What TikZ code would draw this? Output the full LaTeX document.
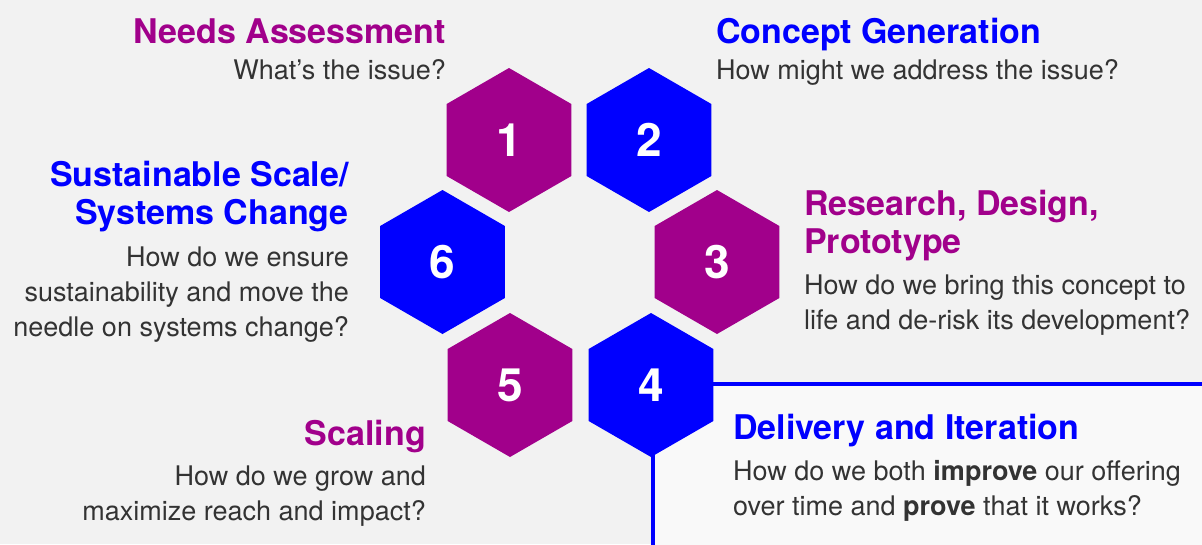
\documentclass[tikz,border=0pt]{standalone}
\usepackage{fontspec}
\setmainfont{TeX Gyre Heros}
\usetikzlibrary{shapes.geometric}
\definecolor{bg}{HTML}{F2F2F2}
\definecolor{boxbg}{HTML}{F9F9F9}
\definecolor{plum}{HTML}{A1008B}
\definecolor{vblue}{HTML}{0000FF}
\definecolor{txt}{HTML}{333333}
\tikzset{
  hexa/.style={regular polygon, regular polygon sides=6, shape border rotate=30,
    minimum size=144pt, inner sep=0pt, outer sep=0pt, draw=none, text=white,
    font=\bfseries\fontsize{46}{46}\selectfont},
  hexp/.style={hexa, fill=plum},
  hexb/.style={hexa, fill=vblue},
  ttl/.style={inner sep=0pt, font=\bfseries\fontsize{34}{38}\selectfont},
  ttlp/.style={ttl, text=plum},
  ttlb/.style={ttl, text=vblue},
  sub/.style={inner sep=0pt, text=txt, font=\fontsize{27}{35}\selectfont},
  boxline/.style={draw=vblue, line width=3.5pt}
}
\begin{document}
\begin{tikzpicture}[x=1pt,y=-1pt]
\useasboundingbox (0,0) rectangle (1202,544);
\fill[bg] (0,0) rectangle (1202,544);

% delivery box
\coordinate (bxtl) at (653,384);
\coordinate (bxtr) at (1206,384);
\coordinate (bxbl) at (653,548);
\fill[boxbg] (bxtl) rectangle (1206,548);
\draw[boxline] (bxtr) -- (bxtl) -- (bxbl);

% hexagons
\node[hexp] (h1) at (509,140) {1};
\node[hexb] (h2) at (649,140) {2};
\node[hexp] (h3) at (717,262) {3};
\node[hexb] (h4) at (651,385) {4};
\node[hexp] (h5) at (510,385) {5};
\node[hexb] (h6) at (442.5,262) {6};

% 1 Needs Assessment
\node[ttlp, anchor=base east] (t1) at (446,43) {Needs Assessment};
\node[sub, anchor=base east] (s1) at (446,79) {What’s the issue?};

% 2 Concept Generation
\node[ttlb, anchor=base west] (t2) at (716,43) {Concept Generation};
\node[sub, anchor=base west] (s2) at (716,79) {How might we address the issue?};

% 3 Research
\node[ttlp, anchor=base west] (t3a) at (804,215) {Research, Design,};
\node[ttlp, anchor=base west] (t3b) at (804,253) {Prototype};
\node[sub, anchor=base west] (s3a) at (804,294) {How do we bring this concept to};
\node[sub, anchor=base west] (s3b) at (804,329) {life and de-risk its development?};

% 4 Delivery
\node[ttlb, anchor=base west] (t4) at (733,439) {Delivery and Iteration};
\node[sub, anchor=base west] (s4a) at (733,480) {How do we both \textbf{improve} our offering};
\node[sub, anchor=base west] (s4b) at (733,515) {over time and \textbf{prove} that it works?};

% 5 Scaling
\node[ttlp, anchor=base east] (t5) at (426,445) {Scaling};
\node[sub, anchor=base east] (s5a) at (426,485) {How do we grow and};
\node[sub, anchor=base east] (s5b) at (426,520) {maximize reach and impact?};

% 6 Sustainable
\node[ttlb, anchor=base east] (t6a) at (349,186) {Sustainable Scale/};
\node[ttlb, anchor=base east] (t6b) at (349,224) {Systems Change};
\node[sub, anchor=base east] (s6a) at (349,266) {How do we ensure};
\node[sub, anchor=base east] (s6b) at (349,301) {sustainability and move the};
\node[sub, anchor=base east] (s6c) at (349,336) {needle on systems change?};
\end{tikzpicture}
\end{document}
